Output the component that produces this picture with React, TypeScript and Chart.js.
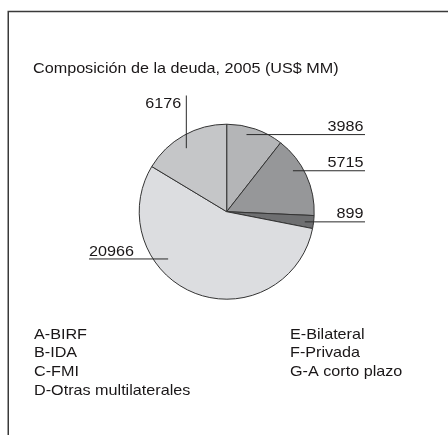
import React, { useEffect, useRef } from "react";
import { Chart, ArcElement, PieController } from "chart.js";

Chart.register(ArcElement, PieController);

const chartTitle = "Composición de la deuda, 2005 (US$ MM)";
const sliceValues = [3986, 5715, 899, 20966, 6176];
const sliceLabels = ["3986", "5715", "899", "20966", "6176"];
const sliceColors = ["#b4b5b7", "#969799", "#6e6f71", "#dcdde0", "#c5c6c8"];
const legendLeft = ["A-BIRF", "B-IDA", "C-FMI", "D-Otras multilaterales"];
const legendRight = ["E-Bilateral", "F-Privada", "G-A corto plazo"];

// leader styling per slice: angular offset from mid-angle, radius fraction, direction
const leaderStyle = [
  { off: -4.6, frac: 0.91, dir: "right" },
  { off: -7, frac: 0.89, dir: "right" },
  { off: 0.6, frac: 0.9, dir: "right" },
  { off: 30, frac: 0.86, dir: "left" },
  { off: -3, frac: 0.86, dir: "up" },
];

const FONT = "14.5px 'Liberation Sans', Arial, sans-serif";
const TEXT = "#1a1718";
const XSCALE = 1.115;

function drawText(ctx: CanvasRenderingContext2D, t: string, x: number, y: number, align: "left" | "right") {
  ctx.save();
  ctx.translate(x, y);
  ctx.scale(XSCALE, 1);
  ctx.textAlign = align;
  ctx.fillText(t, 0, 0);
  ctx.restore();
}

const overlay = {
  id: "overlay",
  afterDraw(chart: any) {
    const ctx = chart.ctx as CanvasRenderingContext2D;
    ctx.save();
    // frame
    ctx.strokeStyle = "#3a3a3a";
    ctx.lineWidth = 1.5;
    ctx.beginPath();
    ctx.moveTo(8.25, 435);
    ctx.lineTo(8.25, 11.5);
    ctx.lineTo(448, 11.5);
    ctx.stroke();

    ctx.fillStyle = TEXT;
    ctx.font = FONT;
    ctx.textBaseline = "alphabetic";
    drawText(ctx, chartTitle, 33, 72.5, "left");

    legendLeft.forEach((t, i) => drawText(ctx, t, 34, 338.5 + i * 18.9, "left"));
    legendRight.forEach((t, i) => drawText(ctx, t, 290, 338.5 + i * 18.9, "left"));

    // leaders
    const meta = chart.getDatasetMeta(0);
    ctx.strokeStyle = "#2a2a2a";
    ctx.lineWidth = 1;
    meta.data.forEach((arc: any, i: number) => {
      const st = leaderStyle[i];
      const mid = (arc.startAngle + arc.endAngle) / 2 + (st.off * Math.PI) / 180;
      const r = arc.outerRadius * st.frac;
      const ax = arc.x + Math.cos(mid) * r;
      const ay = arc.y + Math.sin(mid) * r;
      ctx.beginPath();
      if (st.dir === "right") {
        ctx.moveTo(ax, ay);
        ctx.lineTo(365, ay);
        ctx.stroke();
        drawText(ctx, sliceLabels[i], 363.5, ay - 4, "right");
      } else if (st.dir === "left") {
        ctx.moveTo(ax, ay);
        ctx.lineTo(89, ay);
        ctx.stroke();
        drawText(ctx, sliceLabels[i], 89, ay - 2.5, "left");
      } else {
        ctx.moveTo(ax, ay);
        ctx.lineTo(ax, 95.5);
        ctx.stroke();
        drawText(ctx, sliceLabels[i], ax - 5, 107.5, "right");
      }
    });
    ctx.restore();
  },
};

export default function App() {
  const ref = useRef<HTMLCanvasElement | null>(null);
  useEffect(() => {
    if (!ref.current) return;
    const chart = new Chart(ref.current, {
      type: "pie",
      data: {
        labels: sliceLabels,
        datasets: [
          {
            data: sliceValues,
            backgroundColor: sliceColors,
            borderColor: "#333333",
            borderWidth: 1,
          },
        ],
      },
      options: {
        responsive: false,
        animation: false,
        layout: { padding: { left: 138.7, right: 133.3, top: 123.7, bottom: 135.3 } },
        plugins: { legend: { display: false }, tooltip: { enabled: false } } as any,
      },
      plugins: [overlay],
    });
    return () => chart.destroy();
  }, []);
  return (
    <div style={{ position: "absolute", left: 0, top: 0, width: 448, height: 435, background: "#fff" }}>
      <canvas ref={ref} width={448} height={435} style={{ width: 448, height: 435, display: "block" }} />
    </div>
  );
}
